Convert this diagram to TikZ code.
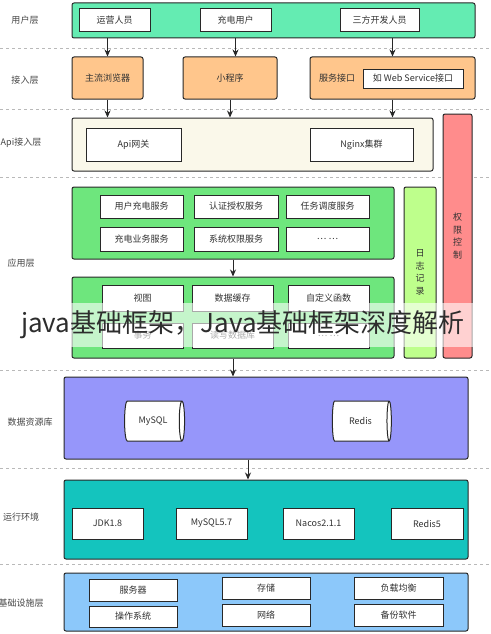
\documentclass[tikz,border=0pt]{standalone}
\usepackage{fontspec}
\setmainfont{Noto Sans CJK SC}
\usetikzlibrary{arrows.meta,shapes.geometric,calc}
\definecolor{userc}{RGB}{100,236,178}
\definecolor{accc}{RGB}{255,198,140}
\definecolor{apic}{RGB}{250,248,234}
\definecolor{appc}{RGB}{110,230,125}
\definecolor{logc}{RGB}{190,255,140}
\definecolor{permc}{RGB}{255,140,140}
\definecolor{datac}{RGB}{150,150,250}
\definecolor{runc}{RGB}{20,196,190}
\definecolor{infc}{RGB}{140,200,250}
\definecolor{bordc}{RGB}{40,40,40}
\definecolor{txtc}{RGB}{50,50,50}
\definecolor{labc}{RGB}{70,70,70}
\definecolor{sepc}{RGB}{185,185,185}
\begin{document}
\begin{tikzpicture}[x=1pt,y=-1pt,
  font=\fontsize{9}{10}\selectfont,
  layer/.style={draw=bordc, line width=1pt, rounded corners=2pt, inner sep=0pt, text=txtc},
  ibox/.style={draw=bordc, fill=white, line width=1pt, inner sep=0pt, text=txtc},
  lab/.style={text=labc, inner sep=0pt},
  sep/.style={draw=sepc, dashed, line width=0.6pt},
  arr/.style={draw=bordc, line width=0.9pt, -{Stealth[length=7pt,width=6pt]}},
  vtext/.style={font=\fontsize{9}{12.5}\selectfont, align=center}
]
\useasboundingbox (0,0) rectangle (490,634);
\fill[white] (0,0) rectangle (490,634);
% separators
\foreach \yy/\nm in {48/s1,109/s2,177/s3,370/s4,468/s5,564/s6}
  \draw[sep] (0,\yy) coordinate (\nm a) -- (490,\yy) coordinate (\nm b);
% left labels
\node[lab] (l1) at (25,20) {用户层};
\node[lab] (l2) at (25,80) {接入层};
\node[lab] (l3) at (21,143) {Api接入层};
\node[lab] (l4) at (21,263) {应用层};
\node[lab] (l5) at (30,422) {数据资源库};
\node[lab] (l6) at (21,517) {运行环境};
\node[lab] (l7) at (21,603) {基础设施层};
% user layer
\node[layer, fill=userc, minimum width=403pt, minimum height=35pt] (user) at (273.5,20.5) {};
\node[ibox, minimum width=71pt, minimum height=23pt] (u1) at (114.5,20.5) {运营人员};
\node[ibox, minimum width=71pt, minimum height=23pt] (u2) at (235.5,20.5) {充电用户};
\node[ibox, minimum width=79pt, minimum height=23pt] (u3) at (379.5,20.5) {三方开发人员};
% access layer
\node[layer, fill=accc, minimum width=71pt, minimum height=42pt] (a1) at (107.5,78) {主流浏览器};
\node[layer, fill=accc, minimum width=94pt, minimum height=42pt] (a2) at (230,78) {小程序};
\node[layer, fill=accc, minimum width=165pt, minimum height=42pt] (a3) at (392.5,78) {};
\node[lab, text=txtc] (a3t) at (337,78) {服务接口};
\node[ibox, minimum width=100pt, minimum height=19pt] (a3i) at (413,78.5) {如 Web Service接口};
% api layer
\node[layer, fill=apic, minimum width=361pt, minimum height=53pt] (api) at (252.5,144.5) {};
\node[ibox, minimum width=95pt, minimum height=33pt] (p1) at (133.5,144.5) {Api网关};
\node[ibox, minimum width=103pt, minimum height=33pt] (p2) at (361.5,144.5) {Nginx集群};
% arrows user -> access -> api
\draw[arr] (a1 |- user.south) -- (a1.north);
\draw[arr] (u2 |- user.south) -- (u2 |- a2.north);
\draw[arr] (a3 |- user.south) -- (a3.north);
\draw[arr] (a1.south) -- (a1 |- api.north);
\draw[arr] (a2.south) -- (a2 |- api.north);
\draw[arr] (a3.south) -- (a3 |- api.north);
% side boxes
\node[layer, fill=permc, minimum width=29pt, minimum height=244pt, vtext] (perm) at (457.5,236) {权\\限\\控\\制};
\node[layer, fill=logc, minimum width=32pt, minimum height=171pt, vtext] (log) at (420,272.5) {日\\志\\记\\录};
% app upper
\node[layer, fill=appc, minimum width=322pt, minimum height=72pt] (appU) at (233,223) {};
\node[ibox, minimum width=83pt, minimum height=23pt] (b11) at (141.5,206.5) {用户充电服务};
\node[ibox, minimum width=84pt, minimum height=23pt] (b12) at (236,206.5) {认证授权服务};
\node[ibox, minimum width=83pt, minimum height=23pt] (b13) at (327.5,206.5) {任务调度服务};
\node[ibox, minimum width=83pt, minimum height=24pt] (b21) at (141.5,239) {充电业务服务};
\node[ibox, minimum width=84pt, minimum height=24pt] (b22) at (236,239) {系统权限服务};
\node[ibox, minimum width=83pt, minimum height=24pt] (b23) at (327.5,239) {… …};
% app lower
\node[layer, fill=appc, minimum width=322pt, minimum height=81pt] (appL) at (233,317.5) {};
\node[ibox, minimum width=81pt, minimum height=26pt] (c11) at (142.5,298) {视图};
\node[ibox, minimum width=81pt, minimum height=26pt] (c12) at (232.5,298) {数据缓存};
\node[ibox, minimum width=81pt, minimum height=26pt] (c13) at (328.5,298) {自定义函数};
\node[ibox, minimum width=81pt, minimum height=25pt] (c21) at (142.5,335.5) {事务};
\node[ibox, minimum width=81pt, minimum height=25pt] (c22) at (232.5,335.5) {读写数据库};
\node[ibox, minimum width=81pt, minimum height=25pt] (c23) at (328.5,335.5) {… …};
\draw[arr] (appU.south) -- (appL.north);
% data layer
\node[layer, fill=datac, minimum width=404pt, minimum height=82pt] (data) at (266,418) {};
\node[cylinder, draw=bordc, fill=white, line width=1pt, shape aspect=0.6, minimum width=40pt, minimum height=60pt, inner sep=0pt, text=txtc] (m1) at (153,421) {MySQL};
\node[cylinder, draw=bordc, fill=white, line width=1pt, shape aspect=0.6, minimum width=40pt, minimum height=59pt, inner sep=0pt, text=txtc] (m2) at (360.5,421) {Redis};
\draw[arr] (appL.south) -- (appL.south |- data.north);
% runtime
\node[layer, fill=runc, minimum width=404pt, minimum height=79pt] (run) at (266,519.5) {};
\node[ibox, minimum width=71pt, minimum height=31pt] (r1) at (107.5,523.5) {JDK1.8};
\node[ibox, minimum width=71pt, minimum height=31pt] (r2) at (211.5,523.5) {MySQL5.7};
\node[ibox, minimum width=71pt, minimum height=31pt] (r3) at (318.5,523.5) {Nacos2.1.1};
\node[ibox, minimum width=72pt, minimum height=31pt] (r4) at (427,523.5) {Redis5};
\coordinate (dx) at (248,459);
\draw[arr] (data.south -| dx) -- (run.north -| dx);
% infra
\node[layer, fill=infc, minimum width=404pt, minimum height=58pt] (inf) at (266,602) {};
\node[ibox, minimum width=88pt, minimum height=22pt] (i11) at (133,590) {服务器};
\node[ibox, minimum width=88pt, minimum height=22pt] (i12) at (266,588) {存储};
\node[ibox, minimum width=89pt, minimum height=22pt] (i13) at (398.5,588) {负载均衡};
\node[ibox, minimum width=88pt, minimum height=21pt] (i21) at (133,616.5) {操作系统};
\node[ibox, minimum width=88pt, minimum height=22pt] (i22) at (266,615) {网络};
\node[ibox, minimum width=89pt, minimum height=22pt] (i23) at (398.5,615) {备份软件};
% watermark band
\fill[white, opacity=0.6] (70,303) rectangle (473,347);
\node[anchor=west, inner sep=0pt, text={rgb,255:red,45;green,45;blue,45}, font=\fontsize{26}{28}\selectfont] (wm) at (21,325) {java基础框架，Java基础框架深度解析};
\end{tikzpicture}
\end{document}
